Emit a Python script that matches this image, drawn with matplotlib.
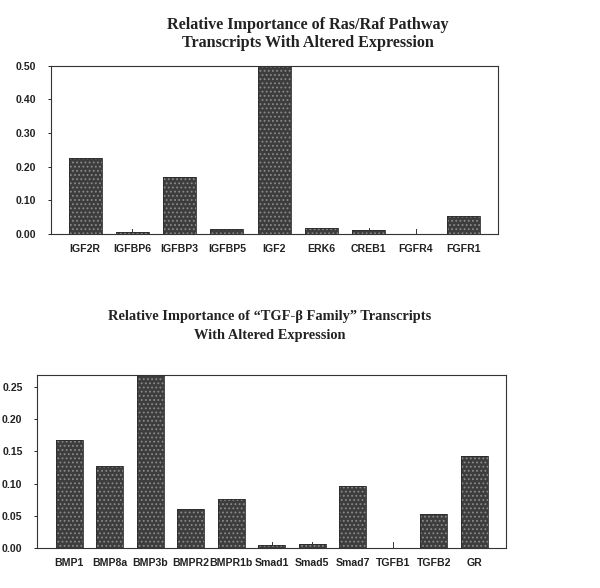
import matplotlib
matplotlib.use("Agg")
import matplotlib.pyplot as plt
import numpy as np

# top chart: Ras/Raf pathway
ras_genes = ["IGF2R", "IGFBP6", "IGFBP3", "IGFBP5", "IGF2", "ERK6", "CREB1", "FGFR4", "FGFR1"]
ras_values = [0.225, 0.007, 0.170, 0.016, 0.52, 0.019, 0.012, 0.0, 0.055]
ras_err = [0.0, 0.009, 0.0, 0.0, 0.0, 0.0, 0.005, 0.016, 0.0]

# bottom chart: TGF-beta family
tgf_genes = ["BMP1", "BMP8a", "BMP3b", "BMPR2", "BMPR1b", "Smad1", "Smad5", "Smad7", "TGFB1", "TGFB2", "GR"]
tgf_values = [0.167, 0.127, 0.29, 0.061, 0.076, 0.005, 0.006, 0.096, 0.0, 0.053, 0.143]
tgf_err = [0.0, 0.0, 0.0, 0.0, 0.0, 0.004, 0.003, 0.0, 0.009, 0.0, 0.0]

plt.rcParams["hatch.linewidth"] = 0.8

fig = plt.figure(figsize=(6.0, 5.88), dpi=100)
fig.patch.set_facecolor("white")

title_font = dict(family="Liberation Serif", weight="bold", color="#222222")
tick_font = dict(family="Liberation Sans", weight="bold", size=7.6, color="#222222")


def draw_panel(ax, labels, values, errs, ymax, step, width, pad):
    x = np.arange(len(labels))
    ax.bar(x, values, width=width, color="#3d3d3d", edgecolor="#8a8a8a",
           hatch="....", linewidth=0.0, zorder=2)
    ax.bar(x, values, width=width, color="none", edgecolor="#2a2a2a",
           linewidth=0.6, zorder=3)
    for xi, v, e in zip(x, values, errs):
        if e > 0:
            ax.plot([xi, xi], [v, v + e], color="#333333", lw=0.7, zorder=4)
    ax.set_xlim(-pad, len(labels) - 1 + pad)
    ax.set_ylim(0, ymax)
    ax.set_xticks(x)
    ax.set_xticklabels(labels, **tick_font)
    ticks = np.arange(0, ymax + 1e-9, step)
    ax.set_yticks(ticks)
    ax.set_yticklabels([f"{t:.2f}" for t in ticks], **tick_font)
    ax.tick_params(axis="x", length=0, pad=7)
    ax.tick_params(axis="y", length=2.5, width=0.6, pad=8)
    for s in ax.spines.values():
        s.set_linewidth(0.8)
        s.set_color("#333333")


ax1 = fig.add_axes([0.0845, 0.602, 0.745, 0.286])
draw_panel(ax1, ras_genes, ras_values, ras_err, 0.50, 0.10, 0.70, 0.73)
fig.text(0.513, 0.957, "Relative Importance of Ras/Raf Pathway", ha="center", va="center", size=11.6, **title_font)
fig.text(0.513, 0.927, "Transcripts With Altered Expression", ha="center", va="center", size=11.6, **title_font)

ax2 = fig.add_axes([0.062, 0.068, 0.782, 0.294])
draw_panel(ax2, tgf_genes, tgf_values, tgf_err, 0.268, 0.05, 0.67, 0.79)
fig.text(0.45, 0.462, "Relative Importance of \u201cTGF-\u03b2 Family\u201d Transcripts", ha="center", va="center", size=10.4, **title_font)
fig.text(0.45, 0.430, "With Altered Expression", ha="center", va="center", size=10.4, **title_font)

fig.savefig("out.png", dpi=100, facecolor="white")
